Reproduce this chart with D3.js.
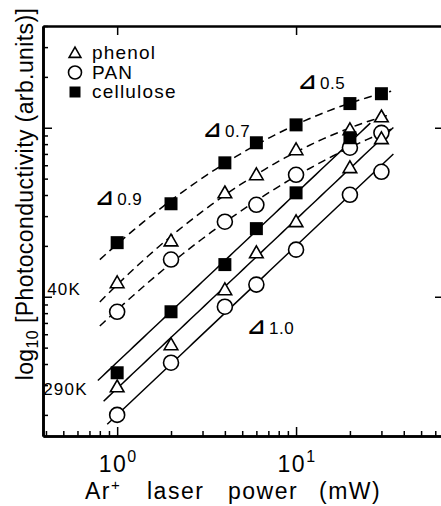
<!DOCTYPE html>
<html>
<head>
<meta charset="utf-8">
<script src="https://cdn.jsdelivr.net/npm/d3@7"></script>
<style>
  body { margin: 0; background: #fff; }
  svg { display: block; font-family: "Liberation Sans", Arial, sans-serif; }
  .axis path { stroke: #000; stroke-width: 2.6; }
  .axis line { stroke: #000; stroke-width: 1.5; }
</style>
</head>
<body>
<div id="graphic"></div>
<script>
// laser power (mW) of the measured points
let power = [1, 2, 4, 6, 10, 20, 30];
// photoconductivity (arb. units), 40K runs (dashed)
let cellulose40K = [2.09, 3.55, 6.2, 8.15, 10.4, 13.9, 15.9];
let phenol40K = [1.21, 2.14, 4.12, 5.27, 7.41, 9.73, 11.6];
let pan40K = [0.815, 1.66, 2.78, 3.5, 5.27, 7.62, 9.33];
// 290K runs (solid), cellulose has no 30 mW point
let cellulose290K = [0.355, 0.815, 1.55, 2.53, 4.12, 8.73];
let phenol290K = [0.293, 0.52, 1.1, 1.82, 2.78, 5.8, 8.61];
let pan290K = [0.2, 0.407, 0.873, 1.18, 1.9, 4.01, 5.49];

let materials = ["phenol", "PAN", "cellulose"];
let shapes = ["triangle", "circle", "square"];
let xMajor = [1, 10];
let xMajorLabels = ["0", "1"];   // exponents of the 10^n labels
let yMajor = [1, 10];
// exponent of the 290K lines, and power ranges the fitted lines cover
let slope290K = 1.0;
let range40K = [0.8, 34];
let from290K = [0.84, 0.88, 0.78];
let to290K = [35, 35, 26];
// slope annotations and temperature labels (power, photoconductivity)
let slopeNotes = [
  {text: "0.9", p: 0.754, s: 3.5},
  {text: "0.7", p: 3.02, s: 8.83},
  {text: "0.5", p: 10.26, s: 17.0},
  {text: "1.0", p: 5.32, s: 0.604}
];
let tempNotes = [
  {text: "40K", p: 0.406, s: 1.03},
  {text: "290K", p: 0.386, s: 0.263}
];

let W = 441, H = 506;
let margin = {top: 26, right: -4, bottom: 70, left: 43};
let width = W - margin.left - margin.right;
let height = H - margin.top - margin.bottom;

let svg = d3.select("#graphic")
  .append("svg")
    .attr("width", W)
    .attr("height", H)
  .append("g")
    .attr("transform", "translate(" + margin.left + "," + margin.top + ")");

let x = d3.scaleLog().domain([0.385, 68]).range([0, width]);
let y = d3.scaleLog().domain([0.15, 40]).range([height, 0]);

let xMinor = x.ticks().filter(d => xMajor.indexOf(d) < 0);
let yMinor = y.ticks().filter(d => yMajor.indexOf(d) < 0);

// axes, ticks point inward
svg.append("g").attr("class", "axis")
  .attr("transform", "translate(0," + height + ")")
  .call(d3.axisBottom(x).tickValues(xMinor).tickSize(-5).tickSizeOuter(0).tickFormat(""));
svg.append("g").attr("class", "axis")
  .attr("transform", "translate(0," + height + ")")
  .call(d3.axisBottom(x).tickValues(xMajor).tickSize(-9).tickSizeOuter(0).tickFormat(""));
svg.append("g").attr("class", "axis")
  .call(d3.axisTop(x).tickValues(xMajor).tickSize(-9).tickSizeOuter(0).tickFormat(""));
svg.append("g").attr("class", "axis")
  .call(d3.axisLeft(y).tickValues(yMinor).tickSize(-5).tickSizeOuter(0).tickFormat(""));
svg.append("g").attr("class", "axis")
  .call(d3.axisLeft(y).tickValues(yMajor).tickSize(-9).tickSizeOuter(0).tickFormat(""));
svg.append("g").attr("class", "axis")
  .attr("transform", "translate(" + width + ",0)")
  .call(d3.axisRight(y).tickValues(yMajor).tickSize(-10).tickSizeOuter(0).tickFormat(""));

// 10^n labels
xMajor.forEach(function(v, i) {
  let t = svg.append("text")
    .attr("x", x(v) + 1)
    .attr("y", height + 36)
    .attr("text-anchor", "middle")
    .style("font-size", "23px")
    .style("letter-spacing", "1.5px")
    .text("10");
  t.append("tspan")
    .attr("dy", -10)
    .style("font-size", "16px")
    .text(xMajorLabels[i]);
});

// axis titles
let xt = svg.append("text")
  .attr("y", height + 63)
  .style("font-size", "23px")
  .style("letter-spacing", "1.5px");
xt.append("tspan").attr("x", 42).text("Ar");
xt.append("tspan").attr("dy", -9).style("font-size", "15px").text("+");
xt.append("tspan").attr("x", 104).attr("dy", 9).text("laser");
xt.append("tspan").attr("x", 185).text("power");
xt.append("tspan").attr("x", 276).text("(mW)");

let yt = svg.append("text")
  .attr("transform", "translate(" + (-10) + "," + (194 - margin.top) + ") rotate(-90)")
  .attr("text-anchor", "middle")
  .style("font-size", "23px")
  .style("letter-spacing", "0.4px");
yt.append("tspan").text("log");
yt.append("tspan").attr("dy", 5).style("font-size", "16px").text("10");
yt.append("tspan").attr("dy", -5).text(" [Photoconductivity (arb.units)]");

// fitted lines, in log-log space
function quadFit(xs, ys) {
  let S = [0, 0, 0, 0, 0], T = [0, 0, 0];
  xs.forEach(function(xv, i) {
    for (let k = 0; k < 5; k++) S[k] += Math.pow(xv, k);
    for (let k = 0; k < 3; k++) T[k] += ys[i] * Math.pow(xv, k);
  });
  let det3 = m => m[0][0] * (m[1][1] * m[2][2] - m[1][2] * m[2][1])
                - m[0][1] * (m[1][0] * m[2][2] - m[1][2] * m[2][0])
                + m[0][2] * (m[1][0] * m[2][1] - m[1][1] * m[2][0]);
  let A = [[S[0], S[1], S[2]], [S[1], S[2], S[3]], [S[2], S[3], S[4]]];
  let D = det3(A);
  return [0, 1, 2].map(function(c) {
    let M = A.map((row, r) => row.map((v, k) => k === c ? T[r] : v));
    return det3(M) / D;
  });
}

function sample(lo, hi, f) {
  return d3.range(0, 61).map(function(i) {
    let p = lo * Math.pow(hi / lo, i / 60);
    return [p, f(p)];
  });
}

let line = d3.line().x(d => x(d[0])).y(d => y(d[1]));

let low = [phenol40K, pan40K, cellulose40K];
let high = [phenol290K, pan290K, cellulose290K];

low.forEach(function(vals) {
  let lx = vals.map((v, i) => Math.log10(power[i]));
  let ly = vals.map(v => Math.log10(v));
  let c = quadFit(lx, ly);
  let pts = sample(range40K[0], range40K[1], function(p) {
    let l = Math.log10(p);
    return Math.pow(10, c[0] + c[1] * l + c[2] * l * l);
  });
  svg.append("path")
    .attr("d", line(pts))
    .attr("fill", "none")
    .attr("stroke", "#000")
    .attr("stroke-width", 1.5)
    .attr("stroke-dasharray", "8,5");
});

high.forEach(function(vals, j) {
  let offset = d3.median(vals.map((v, i) => Math.log10(v) - slope290K * Math.log10(power[i])));
  let pts = sample(from290K[j], to290K[j], p => Math.pow(10, offset + slope290K * Math.log10(p)));
  svg.append("path")
    .attr("d", line(pts))
    .attr("fill", "none")
    .attr("stroke", "#000")
    .attr("stroke-width", 1.5);
});

// markers
function marker(g, shape, cx, cy, big) {
  if (shape === "circle") {
    g.append("circle").attr("cx", cx).attr("cy", cy).attr("r", big ? 7.5 : 6.5)
      .attr("fill", "#fff").attr("stroke", "#000").attr("stroke-width", 1.6);
  } else if (shape === "triangle") {
    g.append("path")
      .attr("d", d3.symbol(d3.symbolTriangle, big ? 80 : 60)())
      .attr("transform", "translate(" + cx + "," + (cy + 1) + ")")
      .attr("fill", "#fff").attr("stroke", "#000").attr("stroke-width", 1.6);
  } else {
    g.append("path")
      .attr("d", d3.symbol(d3.symbolSquare, big ? 169 : 121)())
      .attr("transform", "translate(" + cx + "," + cy + ")")
      .attr("fill", "#000");
  }
}

[low, high].forEach(function(group) {
  group.forEach(function(vals, j) {
    vals.forEach(function(v, i) {
      marker(svg, shapes[j], x(power[i]), y(v), true);
    });
  });
});

// legend
let legend = svg.append("g").attr("transform", "translate(32,27)");
materials.forEach(function(m, i) {
  marker(legend, shapes[i], 0, i * 19.5, false);
  legend.append("text")
    .attr("x", 17)
    .attr("y", i * 19.5 + 6)
    .style("font-size", "19px")
    .style("letter-spacing", "1.2px")
    .text(m);
});

// annotations
slopeNotes.forEach(function(n) {
  let t = svg.append("text")
    .attr("x", x(n.p))
    .attr("y", y(n.s))
    .style("font-size", "17px")
    .style("letter-spacing", "0.5px");
  t.append("tspan")
    .style("font-family", "DejaVu Sans")
    .style("font-weight", "bold")
    .style("font-size", "22px")
    .text("\u22BF");
  t.append("tspan").attr("dx", 3).text(n.text);
});

tempNotes.forEach(function(n) {
  svg.append("text")
    .attr("x", x(n.p))
    .attr("y", y(n.s))
    .style("font-size", "17px")
    .style("letter-spacing", "1.2px")
    .text(n.text);
});
</script>
</body>
</html>
